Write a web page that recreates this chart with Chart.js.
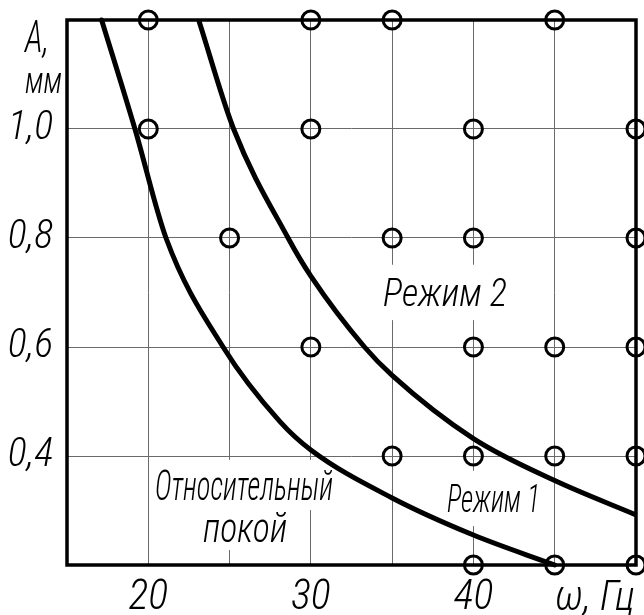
<!DOCTYPE html>
<html>
<head>
<meta charset="utf-8">
<title>Режим</title>
<script src="https://cdn.jsdelivr.net/npm/chart.js@4"></script>
<style>
  html, body { margin: 0; padding: 0; background: #fff; overflow: hidden; }
  #wrap { width: 644px; height: 615px; }
  canvas { display: block; }
</style>
</head>
<body>
<div id="wrap"><canvas id="modeChart"></canvas></div>
<script>
// Test points (open circles): frequency, Hz and amplitude, mm
const pointFreq = [20, 30, 35, 45, 20, 30, 40, 50, 25, 35, 40, 50, 30, 40, 45, 50, 35, 40, 45, 50, 40, 45, 50];
const pointAmp  = [1.2, 1.2, 1.2, 1.2, 1.0, 1.0, 1.0, 1.0, 0.8, 0.8, 0.8, 0.8, 0.6, 0.6, 0.6, 0.6, 0.4, 0.4, 0.4, 0.4, 0.2, 0.2, 0.2];

// Lower boundary (relative rest / mode 1)
const rest1Freq = [17.13, 19.18, 21.09, 24.6, 28.1, 30, 35, 40, 45];
const rest1Amp  = [1.2, 1.0, 0.8, 0.6, 0.463, 0.411, 0.323, 0.255, 0.2];

// Upper boundary (mode 1 / mode 2)
const mode2Freq = [23.1, 25.25, 28.6, 30, 33.3, 35, 40, 45, 50];
const mode2Amp  = [1.2, 1.0, 0.8, 0.73, 0.6, 0.548, 0.432, 0.355, 0.292];

// Tick labels
const xTickLabels = { 20: '20', 30: '30', 40: '40' };
const yTickLabels = { '0.4': '0,4', '0.6': '0,6', '0.8': '0,8', '1.0': '1,0' };

const FONT = '"Roboto Condensed", "Liberation Sans Narrow", "DejaVu Sans Condensed", sans-serif';

function toXY(xs, ys) {
  return xs.map((x, i) => ({ x: x, y: ys[i] }));
}

// Text labels inside and around the plot, placed in data units
const textLabels = [
  { text: 'Режим 2', x: 34.44, y: 0.675, size: 38, width: 124, box: [10, 14] },
  { text: 'Режим 1', x: 38.37, y: 0.297, size: 38, width: 93, box: [8, 14] },
  { text: 'Относительный', x: 20.41, y: 0.319, size: 42, width: 178, box: [3, 10] },
  { text: 'покой', x: 23.37, y: 0.242, size: 42, width: 84, box: [3, 8] },
  { text: 'A,', x: 12.42, y: 1.141, size: 44, width: 24 },
  { text: 'мм', x: 12.42, y: 1.066, size: 36, width: 37 },
  { text: 'ω, Гц', x: 45.02, y: 0.117, size: 42, width: 80 }
];

const PLOT_RIGHT_GAP = 8; // space right of the frame

const drawingPlugin = {
  id: 'drawing',
  afterLayout(chart) {
    // stretch the x scale so the frame ends close to the right edge
    const xs = chart.scales.x;
    const right = chart.width - PLOT_RIGHT_GAP;
    if (xs.right !== right) {
      xs.right = right;
      xs.width = right - xs.left;
      xs.configure();
      chart.chartArea.right = right;
      chart.chartArea.width = right - chart.chartArea.left;
    }
  },
  beforeDatasetsDraw(chart) {
    const ctx = chart.ctx;
    const xs = chart.scales.x, ys = chart.scales.y;
    const area = chart.chartArea;
    ctx.save();
    // white gaps in the grid behind labels
    textLabels.forEach(l => {
      if (!l.box) return;
      const px = xs.getPixelForValue(l.x);
      const py = ys.getPixelForValue(l.y);
      const h = l.size * 0.72;
      ctx.fillStyle = '#fff';
      ctx.fillRect(px - l.box[0], py - h - l.box[1], l.width + 2 * l.box[0], h + 2 * l.box[1]);
    });
    // thick frame
    ctx.strokeStyle = '#000';
    ctx.lineWidth = 3.5;
    ctx.strokeRect(area.left, area.top, area.right - area.left, area.bottom - area.top);
    ctx.restore();
  },
  afterDraw(chart) {
    const ctx = chart.ctx;
    const xs = chart.scales.x, ys = chart.scales.y;
    ctx.save();
    ctx.fillStyle = '#000';
    ctx.textBaseline = 'alphabetic';
    ctx.textAlign = 'left';
    textLabels.forEach(l => {
      ctx.font = 'italic 300 ' + l.size + 'px ' + FONT;
      const w = ctx.measureText(l.text).width;
      const px = xs.getPixelForValue(l.x);
      const py = ys.getPixelForValue(l.y);
      ctx.save();
      ctx.translate(px, py);
      ctx.scale(l.width / w, 1);
      ctx.fillText(l.text, 0, 0);
      ctx.restore();
    });
    ctx.restore();
  }
};

const modeCtx = document.getElementById('modeChart');
new Chart(modeCtx, {
  type: 'scatter',
  data: {
    datasets: [
      {
        label: 'Опыты',
        data: toXY(pointFreq, pointAmp),
        pointStyle: 'circle',
        pointRadius: 9,
        borderWidth: 3,
        borderColor: '#000',
        backgroundColor: 'rgba(0,0,0,0)',
        showLine: false,
        clip: false
      },
      {
        label: 'Граница 1',
        data: toXY(rest1Freq, rest1Amp),
        showLine: true,
        pointRadius: 0,
        borderWidth: 5,
        borderColor: '#000',
        borderCapStyle: 'round',
        cubicInterpolationMode: 'monotone',
        clip: false
      },
      {
        label: 'Граница 2',
        data: toXY(mode2Freq, mode2Amp),
        showLine: true,
        pointRadius: 0,
        borderWidth: 5,
        borderColor: '#000',
        cubicInterpolationMode: 'monotone',
        clip: false
      }
    ]
  },
  options: {
    responsive: true,
    maintainAspectRatio: false,
    animation: false,
    events: [],
    layout: { padding: { top: 20, right: 2, left: 0, bottom: 0 } },
    plugins: {
      legend: { display: false },
      tooltip: { enabled: false }
    },
    scales: {
      x: {
        type: 'linear',
        min: 15,
        max: 50,
        afterFit: scale => {
          scale.height = 50;
          scale.paddingLeft = 0;
          scale.paddingRight = 0;
        },
        ticks: {
          stepSize: 5,
          padding: 8,
          color: '#000',
          font: { family: FONT, size: 42, style: 'italic', weight: 300 },
          callback: v => xTickLabels[v] || ''
        },
        grid: { color: '#6a6a6a', lineWidth: 1, drawTicks: false },
        border: { display: false }
      },
      y: {
        type: 'linear',
        min: 0.2,
        max: 1.2,
        afterFit: scale => {
          scale.width = 67;
          scale.paddingTop = 0;
          scale.paddingBottom = 0;
        },
        ticks: {
          stepSize: 0.2,
          padding: 14,
          color: '#000',
          font: { family: FONT, size: 40, style: 'italic', weight: 300 },
          callback: v => yTickLabels[v.toFixed(1)] || ''
        },
        grid: { color: '#6a6a6a', lineWidth: 1, drawTicks: false },
        border: { display: false }
      }
    }
  },
  plugins: [drawingPlugin]
});
</script>
</body>
</html>
